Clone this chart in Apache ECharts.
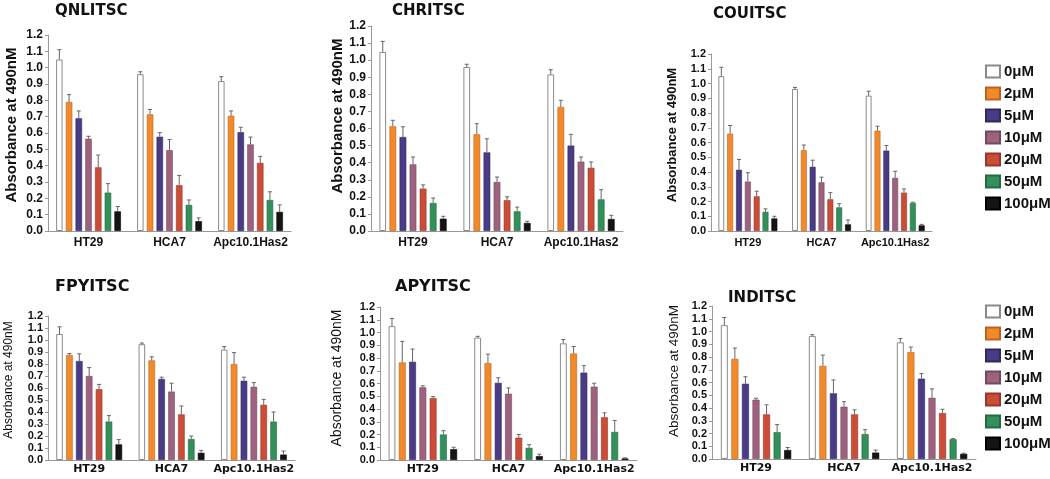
<!DOCTYPE html>
<html>
<head>
<meta charset="utf-8">
<script src="https://cdn.jsdelivr.net/npm/echarts@6/dist/echarts.min.js"></script>
<style>
html,body{margin:0;padding:0;background:#fff;}
#chart{width:1050px;height:479px;}
</style>
</head>
<body>
<div id="chart"></div>
<script>
// categories and doses
var cellLines = ['HT29', 'HCA7', 'Apc10.1Has2'];
var doseNames = ['0μM', '2μM', '5μM', '10μM', '20μM', '50μM', '100μM'];
var yMin = 0, yMax = 1.2, yStep = 0.1;

// means, one row per cell line (7 doses each)
var qnlitscMean = [[1.05, 0.79, 0.69, 0.565, 0.39, 0.235, 0.12], [0.96, 0.714, 0.577, 0.495, 0.28, 0.16, 0.06], [0.918, 0.705, 0.605, 0.53, 0.417, 0.19, 0.117]];
var qnlitscErr = [[0.06, 0.045, 0.045, 0.015, 0.075, 0.055, 0.03], [0.015, 0.03, 0.025, 0.065, 0.06, 0.03, 0.02], [0.027, 0.03, 0.03, 0.045, 0.04, 0.05, 0.043]];

var chritscMean = [[1.048, 0.613, 0.55, 0.39, 0.248, 0.164, 0.072], [0.96, 0.566, 0.46, 0.287, 0.18, 0.115, 0.047], [0.917, 0.726, 0.5, 0.406, 0.37, 0.185, 0.07]];
var chritscErr = [[0.062, 0.035, 0.06, 0.043, 0.022, 0.029, 0.014], [0.016, 0.062, 0.08, 0.029, 0.02, 0.025, 0.01], [0.027, 0.039, 0.066, 0.027, 0.034, 0.057, 0.022]];

var couitscMean = [[1.05, 0.66, 0.415, 0.335, 0.235, 0.13, 0.085], [0.963, 0.548, 0.435, 0.33, 0.215, 0.16, 0.045], [0.918, 0.68, 0.545, 0.36, 0.26, 0.19, 0.038]];
var couitscErr = [[0.06, 0.055, 0.07, 0.06, 0.035, 0.02, 0.015], [0.01, 0.035, 0.045, 0.035, 0.045, 0.025, 0.03], [0.03, 0.03, 0.035, 0.045, 0.025, 0.005, 0.007]];

var fpyitscMean = [[1.05, 0.875, 0.825, 0.7, 0.59, 0.32, 0.13], [0.965, 0.83, 0.675, 0.57, 0.38, 0.175, 0.06], [0.92, 0.8, 0.66, 0.61, 0.46, 0.32, 0.045]];
var fpyitscErr = [[0.06, 0.012, 0.06, 0.07, 0.04, 0.05, 0.04], [0.01, 0.03, 0.015, 0.07, 0.07, 0.025, 0.02], [0.025, 0.095, 0.03, 0.035, 0.045, 0.08, 0.03]];

var apyitscMean = [[1.05, 0.765, 0.77, 0.57, 0.485, 0.2, 0.085], [0.96, 0.76, 0.605, 0.52, 0.175, 0.095, 0.03], [0.915, 0.835, 0.685, 0.575, 0.335, 0.22, 0.012]];
var apyitscErr = [[0.06, 0.165, 0.1, 0.012, 0.012, 0.03, 0.015], [0.01, 0.07, 0.04, 0.045, 0.025, 0.025, 0.015], [0.03, 0.055, 0.055, 0.027, 0.035, 0.09, 0.005]];

var inditscMean = [[1.05, 0.785, 0.59, 0.465, 0.35, 0.21, 0.07], [0.965, 0.73, 0.515, 0.41, 0.35, 0.195, 0.05], [0.915, 0.838, 0.63, 0.48, 0.36, 0.155, 0.04]];
var inditscErr = [[0.06, 0.085, 0.055, 0.012, 0.075, 0.06, 0.02], [0.01, 0.085, 0.105, 0.04, 0.035, 0.035, 0.02], [0.03, 0.04, 0.04, 0.07, 0.03, 0.005, 0.005]];

// styles
var doseColors = ['#ffffff', '#f28a2c', '#4a3b86', '#9e627f', '#cc4d37', '#33905a', '#141414'];
var doseBorders = ['#8a8a8a', '#b86420', '#33285e', '#744860', '#963828', '#246a41', '#000000'];
var SANS = '"Liberation Sans", Arial, sans-serif';
var WIDE = '"DejaVu Sans", Verdana, sans-serif';

// panel layout (px)
var panels = [
	{title: 'QNLITSC', mean: qnlitscMean, err: qnlitscErr, grid: {left: 48, top: 35, width: 243, height: 196},
	 tx: 55, ty: 4, tSize: 15, name: {x: 12, y: 125, size: 15, weight: 'bold'}, tick: 12, cat: {size: 12, font: SANS, margin: 6}},
	{title: 'CHRITSC', mean: chritscMean, err: chritscErr, grid: {left: 371, top: 26, width: 252, height: 205},
	 tx: 392, ty: 4, tSize: 15, name: {x: 338, y: 116, size: 15, weight: 'bold'}, tick: 12, cat: {size: 12, font: SANS, margin: 6}},
	{title: 'COUITSC', mean: couitscMean, err: couitscErr, grid: {left: 711, top: 54, width: 221, height: 177},
	 tx: 713, ty: 7, tSize: 15, name: {x: 672, y: 135, size: 13, weight: 'bold'}, tick: 11, cat: {size: 11, font: SANS, margin: 6}},
	{title: 'FPYITSC', mean: fpyitscMean, err: fpyitscErr, grid: {left: 48, top: 316, width: 247, height: 144},
	 tx: 55, ty: 279, tSize: 16, name: {x: 9, y: 380, size: 12, weight: 'normal'}, tick: 11, cat: {size: 11, font: WIDE, margin: 4}},
	{title: 'APYITSC', mean: apyitscMean, err: apyitscErr, grid: {left: 380, top: 307, width: 257, height: 153},
	 tx: 395, ty: 279, tSize: 16, name: {x: 337, y: 378, size: 14, weight: 'normal'}, tick: 11, cat: {size: 11, font: WIDE, margin: 4}},
	{title: 'INDITSC', mean: inditscMean, err: inditscErr, grid: {left: 712, top: 306, width: 264, height: 153},
	 tx: 728, ty: 291, tSize: 15, name: {x: 674, y: 371, size: 13.5, weight: 'normal'}, tick: 11, cat: {size: 11, font: WIDE, margin: 4}}
];

// upward error bar, placed over the matching bar of the group
function drawErrorBar(params, api) {
	var cat = api.value(0), dose = api.value(1), mean = api.value(2), err = api.value(3);
	var band = api.size([1, 0])[0];
	var n = doseNames.length;
	var barW = band * 0.8 / (n + (n - 1) * 0.5);
	var base = api.coord([cat, mean]);
	var top = api.coord([cat, mean + err]);
	var x = base[0] - band * 0.4 + barW / 2 + dose * barW * 1.5;
	var st = {stroke: '#666', lineWidth: 1};
	return {
		type: 'group',
		children: [
			{type: 'line', shape: {x1: x, y1: base[1], x2: x, y2: top[1]}, style: st},
			{type: 'line', shape: {x1: x - 2, y1: top[1], x2: x + 2, y2: top[1]}, style: st}
		]
	};
}

var grids = [], xAxes = [], yAxes = [], titles = [], series = [], graphics = [];

for (var p = 0; p < panels.length; p++) {
	var pn = panels[p];
	grids.push({left: pn.grid.left, top: pn.grid.top, width: pn.grid.width, height: pn.grid.height,
		containLabel: false, outerBoundsMode: 'none'});
	titles.push({text: pn.title, left: pn.tx, top: pn.ty, padding: 0,
		textStyle: {fontFamily: WIDE, fontWeight: 'bold', fontSize: pn.tSize, color: '#111'}});
	xAxes.push({
		type: 'category', gridIndex: p, data: cellLines,
		axisLine: {lineStyle: {color: '#999', width: 1}},
		axisTick: {show: false},
		axisLabel: {interval: 0, hideOverlap: false, fontFamily: pn.cat.font, fontWeight: 'bold', fontSize: pn.cat.size,
			color: '#111', margin: pn.cat.margin}
	});
	yAxes.push({
		type: 'value', gridIndex: p, min: yMin, max: yMax, interval: yStep,
		axisLine: {show: true, lineStyle: {color: '#999', width: 1}},
		axisTick: {show: true, length: 3, lineStyle: {color: '#999'}},
		splitLine: {show: false},
		axisLabel: {fontFamily: SANS, fontWeight: 'bold', fontSize: pn.tick, color: '#111', margin: 5,
			formatter: function (v) { return v.toFixed(1); }}
	});
	graphics.push({
		type: 'text', x: pn.name.x, y: pn.name.y, rotation: Math.PI / 2,
		style: {text: 'Absorbance at 490nM', fontFamily: SANS, fontWeight: pn.name.weight, fontSize: pn.name.size,
			fill: '#111', align: 'center', verticalAlign: 'middle'}
	});

	var errRows = [];
	for (var d = 0; d < doseNames.length; d++) {
		var vals = [];
		for (var c = 0; c < cellLines.length; c++) {
			vals.push(pn.mean[c][d]);
			errRows.push([c, d, pn.mean[c][d], pn.err[c][d]]);
		}
		series.push({
			type: 'bar', name: doseNames[d], xAxisIndex: p, yAxisIndex: p, data: vals,
			barGap: '50%', barCategoryGap: '20%',
			itemStyle: {color: doseColors[d], borderColor: doseBorders[d], borderWidth: d == 0 ? 1 : 0.6}
		});
	}
	series.push({
		type: 'custom', xAxisIndex: p, yAxisIndex: p, data: errRows,
		encode: {x: 0, y: 2}, renderItem: drawErrorBar, silent: true, z: 3
	});
}

var legendBase = {
	data: doseNames, orient: 'vertical', left: 985, itemWidth: 14, itemHeight: 12, itemGap: 7,
	icon: 'rect', padding: 0, selectedMode: false,
	textStyle: {fontFamily: SANS, fontWeight: 'bold', fontSize: 15, color: '#111', padding: [0, 0, 0, -1]}
};
var legends = [
	echarts.util.merge({top: 64}, legendBase, true),
	echarts.util.merge({top: 304}, legendBase, true)
];

var chart = echarts.init(document.getElementById('chart'));
chart.setOption({
	animation: false,
	backgroundColor: '#fff',
	title: titles,
	legend: legends,
	grid: grids,
	xAxis: xAxes,
	yAxis: yAxes,
	graphic: graphics,
	series: series
});
</script>
</body>
</html>
